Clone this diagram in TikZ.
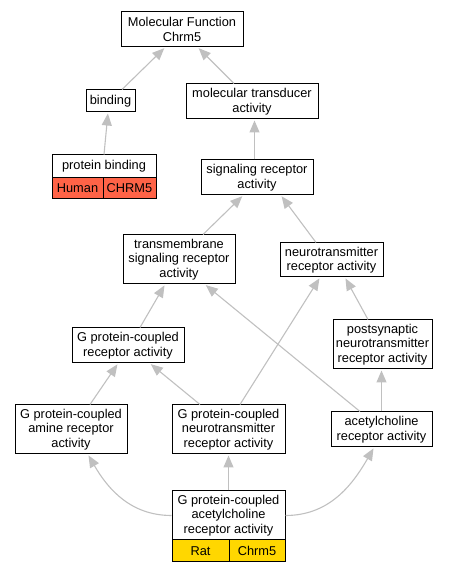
\documentclass[tikz,border=0pt]{standalone}
\usepackage{fontspec}
\setmainfont{Liberation Sans}
\usepackage{tikz}
\usetikzlibrary{arrows}
\usetikzlibrary{arrows.meta}

\definecolor{edgegray}{HTML}{C0C0C0}
\definecolor{humancol}{HTML}{FF6347}
\definecolor{ratcol}{HTML}{FFD700}

\begin{document}
\begin{tikzpicture}[x=1pt,y=1pt,->,>={Triangle[length=12pt,width=10pt]},shorten >=1pt,
                        term node/.style={rectangle,draw=black,fill=white,line width=1pt,align=center,
                          inner sep=2pt,font=\fontsize{12.8}{14.5}\selectfont},
                        gene cell/.style={rectangle,draw=black,line width=1pt,inner sep=1pt,
                          minimum height=22pt,font=\fontsize{12.8}{14.5}\selectfont}]

        \useasboundingbox (0,0) rectangle (452,573);

        \node[term node, minimum width=122pt, minimum height=35pt] (mf) at (182,543.5) {Molecular Function\\Chrm5};
        \node[term node, minimum width=49pt, minimum height=22pt] (binding) at (110.5,472) {binding};
        \node[term node, minimum width=132pt, minimum height=35pt] (transducer) at (252,471.5) {molecular transducer\\activity};

        \node[term node, minimum width=104pt, minimum height=23pt] (protbind) at (104,406.5) {protein binding};
        \node[gene cell, fill=humancol, minimum width=51pt, minimum height=21pt] (human) at (77.5,384.5) {Human};
        \node[gene cell, fill=humancol, minimum width=53pt, minimum height=21pt] (chrmhuman) at (129.5,384.5) {CHRM5};

        \node[term node, minimum width=112pt, minimum height=35pt] (signaling) at (257,395.5) {signaling receptor\\activity};
        \node[term node, minimum width=112pt, minimum height=49pt] (transmem) at (179,313.5) {transmembrane\\signaling receptor\\activity};
        \node[term node, minimum width=103pt, minimum height=34pt] (neurotr) at (331.5,313) {neurotransmitter\\receptor activity};
        \node[term node, minimum width=112pt, minimum height=35pt] (gpcr) at (128,227.5) {G protein-coupled\\receptor activity};
        \node[term node, minimum width=99pt, minimum height=49pt] (postsyn) at (382.5,228.5) {postsynaptic\\neurotransmitter\\receptor activity};
        \node[term node, minimum width=112pt, minimum height=49pt] (amine) at (71,143.5) {G protein-coupled\\amine receptor\\activity};
        \node[term node, minimum width=113pt, minimum height=49pt] (gpcrneuro) at (228.5,143.5) {G protein-coupled\\neurotransmitter\\receptor activity};
        \node[term node, minimum width=101pt, minimum height=35pt] (achr) at (381.5,143.5) {acetylcholine\\receptor activity};

        \node[term node, minimum width=113pt, minimum height=49pt] (gpcrach) at (228.5,57.5) {G protein-coupled\\acetylcholine\\receptor activity};
        \node[gene cell, fill=ratcol, minimum width=57pt] (rat) at (200.5,22) {Rat};
        \node[gene cell, fill=ratcol, minimum width=56pt] (chrmrat) at (257,22) {Chrm5};

        \begin{scope}[edgegray, line width=1.1pt]
            \path [->] ([xshift=11.5pt]binding.north) edge node {} ([xshift=-17pt]mf.south);
            \path [->] ([xshift=-18pt]transducer.north) edge node {} ([xshift=16pt]mf.south);
            \path [->] (protbind.north) edge node {} ([xshift=-2.5pt]binding.south);
            \path [->] ([xshift=-2.5pt]signaling.north) edge node {} ([xshift=2.5pt]transducer.south);
            \path [->] ([xshift=24pt]transmem.north) edge node {} ([xshift=-14pt]signaling.south);
            \path [->] ([xshift=-15.5pt]neurotr.north) edge node {} ([xshift=24pt]signaling.south);
            \path [->] ([xshift=12pt]gpcr.north) edge node {} ([xshift=-14pt]transmem.south);
            \path [->] ([xshift=-21.5pt]achr.north) edge node {} ([xshift=26pt]transmem.south);
            \path [->] ([xshift=11.5pt]gpcrneuro.north) edge node {} ([xshift=-11.5pt]neurotr.south);
            \path [->] ([xshift=-14.5pt]postsyn.north) edge node {} ([xshift=13.5pt]neurotr.south);
            \path [->] ([xshift=19pt]amine.north) edge node {} ([xshift=-10pt]gpcr.south);
            \path [->] ([xshift=-28.5pt]gpcrneuro.north) edge node {} ([xshift=22pt]gpcr.south);
            \path [->] (achr.north) edge node {} ([xshift=-1pt]postsyn.south);
            \path [->] (gpcrach.north) edge node {} (gpcrneuro.south);
            \path [->] (gpcrach.west) edge[out=180,in=-60] node {} ([xshift=17pt]amine.south);
            \path [->] (gpcrach.east) edge[out=0,in=-120] node {} ([xshift=-7.5pt]achr.south);
        \end{scope}
    \end{tikzpicture}
\end{document}
